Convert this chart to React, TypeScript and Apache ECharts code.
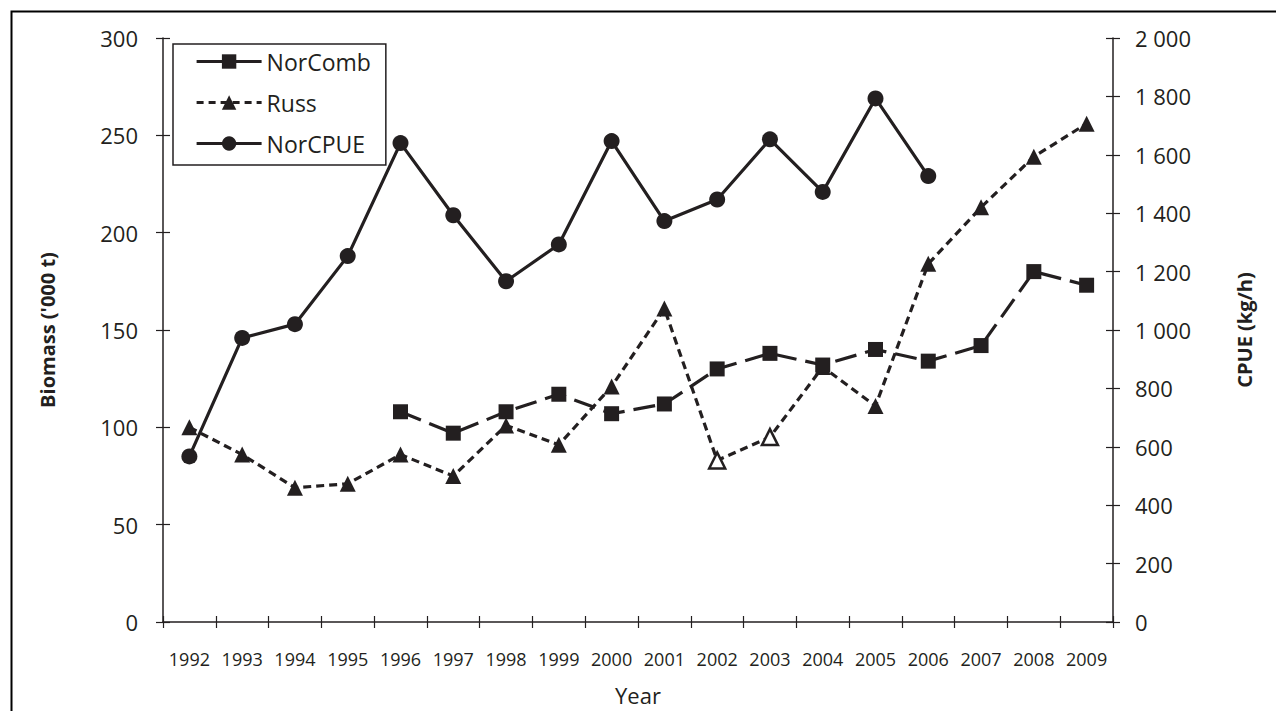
import React, { useEffect, useRef } from "react";
import * as echarts from "echarts";

const years = ["1992","1993","1994","1995","1996","1997","1998","1999","2000","2001","2002","2003","2004","2005","2006","2007","2008","2009"];
const norComb: (number | null)[] = [null, null, null, null, 108, 97, 108, 117, 107, 112, 130, 138, 132, 140, 134, 142, 180, 173];
const russ: number[] = [100, 86, 69, 71, 86, 75, 101, 91, 121, 161, 83, 95, 131, 111, 184, 213, 239, 256];
const russOpen: string[] = ["2002", "2003"];
const norCpue: (number | null)[] = [567, 973, 1020, 1253, 1640, 1393, 1167, 1293, 1647, 1373, 1447, 1653, 1473, 1793, 1527, null, null, null];
const leftTicks = { min: 0, max: 300, interval: 50 };
const rightTicks = { min: 0, max: 2000, interval: 200 };

const INK = "#231f20";
const FONT = "'Open Sans', 'Noto Sans', sans-serif";

export default function App() {
  const ref = useRef<HTMLDivElement>(null);
  useEffect(() => {
    document.body.style.margin = "0";
    const chart = echarts.init(ref.current!, null, { renderer: "svg" });
    const russData = russ.map((v, i) =>
      russOpen.includes(years[i])
        ? { value: v, itemStyle: { color: "#ffffff", borderColor: INK, borderWidth: 2.5 } }
        : v
    );
    const tickOnlyY = (pos: string, t: any) => ({
      type: "value",
      position: pos,
      min: t.min,
      max: t.max,
      interval: t.interval,
      axisLine: { show: false },
      axisTick: { show: true, inside: true, length: 7, lineStyle: { color: INK, width: 1.2 } },
      axisLabel: { show: false },
      splitLine: { show: false },
    });
    chart.setOption({
      animation: false,
      backgroundColor: "#ffffff",
      graphic: [
        {
          type: "rect",
          left: 9,
          top: 9,
          shape: { width: 1400, height: 900 },
          style: { fill: "none", stroke: "#000", lineWidth: 2 },
          z: -1,
        },
      ],
      grid: { left: 163, right: 163, top: 38, bottom: 88 },
      legend: {
        orient: "vertical",
        left: 173,
        top: 44,
        padding: [6, 15, 10, 22],
        itemGap: 18,
        itemWidth: 65,
        itemHeight: 18,
        backgroundColor: "#ffffff",
        borderColor: INK,
        borderWidth: 1.5,
        borderRadius: 0,
        lineStyle: { width: 3.2 },
        textStyle: { fontSize: 23, color: INK, fontFamily: FONT },
        data: [
          { name: "NorComb", lineStyle: { type: "solid", width: 3.2 } },
          { name: "Russ", lineStyle: { type: [7, 5], width: 3.2 } },
          { name: "NorCPUE", lineStyle: { width: 3.2 } },
        ],
      },
      xAxis: [
        {
          type: "category",
          data: years,
          boundaryGap: true,
          name: "Year",
          nameLocation: "middle",
          nameGap: 62,
          nameTextStyle: { fontSize: 22, color: INK, fontFamily: FONT },
          axisLine: { lineStyle: { color: INK, width: 1.5 } },
          axisTick: { show: true, length: 6, lineStyle: { color: INK, width: 1.2 } },
          axisLabel: { fontSize: 18, color: INK, fontFamily: FONT, margin: 28, interval: 0 },
        },
        {
          type: "category",
          data: years,
          position: "bottom",
          boundaryGap: true,
          axisLine: { show: false },
          axisTick: { show: true, inside: true, length: 6, lineStyle: { color: INK, width: 1.2 } },
          axisLabel: { show: false },
        },
      ],
      yAxis: [
        {
          type: "value",
          position: "left",
          min: leftTicks.min,
          max: leftTicks.max,
          interval: leftTicks.interval,
          name: "Biomass ('000 t)",
          nameLocation: "middle",
          nameGap: 106,
          nameTextStyle: { fontSize: 20, fontWeight: "bold", color: INK, fontFamily: FONT },
          axisLine: { show: true, lineStyle: { color: INK, width: 1.5 } },
          axisTick: { show: true, length: 7, lineStyle: { color: INK, width: 1.2 } },
          axisLabel: { fontSize: 22, color: INK, fontFamily: FONT, margin: 25 },
          splitLine: { show: false },
        },
        {
          type: "value",
          position: "right",
          min: rightTicks.min,
          max: rightTicks.max,
          interval: rightTicks.interval,
          name: "CPUE (kg/h)",
          nameLocation: "middle",
          nameGap: 121,
          nameTextStyle: { fontSize: 20, fontWeight: "bold", color: INK, fontFamily: FONT },
          axisLine: { show: true, lineStyle: { color: INK, width: 1.5 } },
          axisTick: { show: true, length: 7, lineStyle: { color: INK, width: 1.2 } },
          axisLabel: {
            fontSize: 22,
            color: INK,
            fontFamily: FONT,
            margin: 22,
            formatter: (v: number) => String(v).replace(/\B(?=(\d{3})+(?!\d))/g, " "),
          },
          splitLine: { show: false },
        },
        tickOnlyY("left", leftTicks),
        tickOnlyY("right", rightTicks),
      ],
      series: [
        {
          name: "NorComb",
          type: "line",
          yAxisIndex: 0,
          data: norComb,
          symbol: "rect",
          symbolSize: 15,
          itemStyle: { color: INK },
          lineStyle: { color: INK, width: 3.2, type: [22, 9] },
          connectNulls: false,
          z: 3,
        },
        {
          name: "Russ",
          type: "line",
          yAxisIndex: 0,
          data: russData,
          symbol: "triangle",
          symbolSize: 16,
          itemStyle: { color: INK },
          lineStyle: { color: INK, width: 3.2, type: [8, 5] },
          z: 2,
        },
        {
          name: "NorCPUE",
          type: "line",
          yAxisIndex: 1,
          data: norCpue,
          symbol: "circle",
          symbolSize: 16,
          itemStyle: { color: INK },
          lineStyle: { color: INK, width: 3.2 },
          z: 4,
        },
      ],
    });
    return () => chart.dispose();
  }, []);
  return <div ref={ref} style={{ position: "fixed", left: 0, top: 0, width: 1276, height: 711 }} />;
}
